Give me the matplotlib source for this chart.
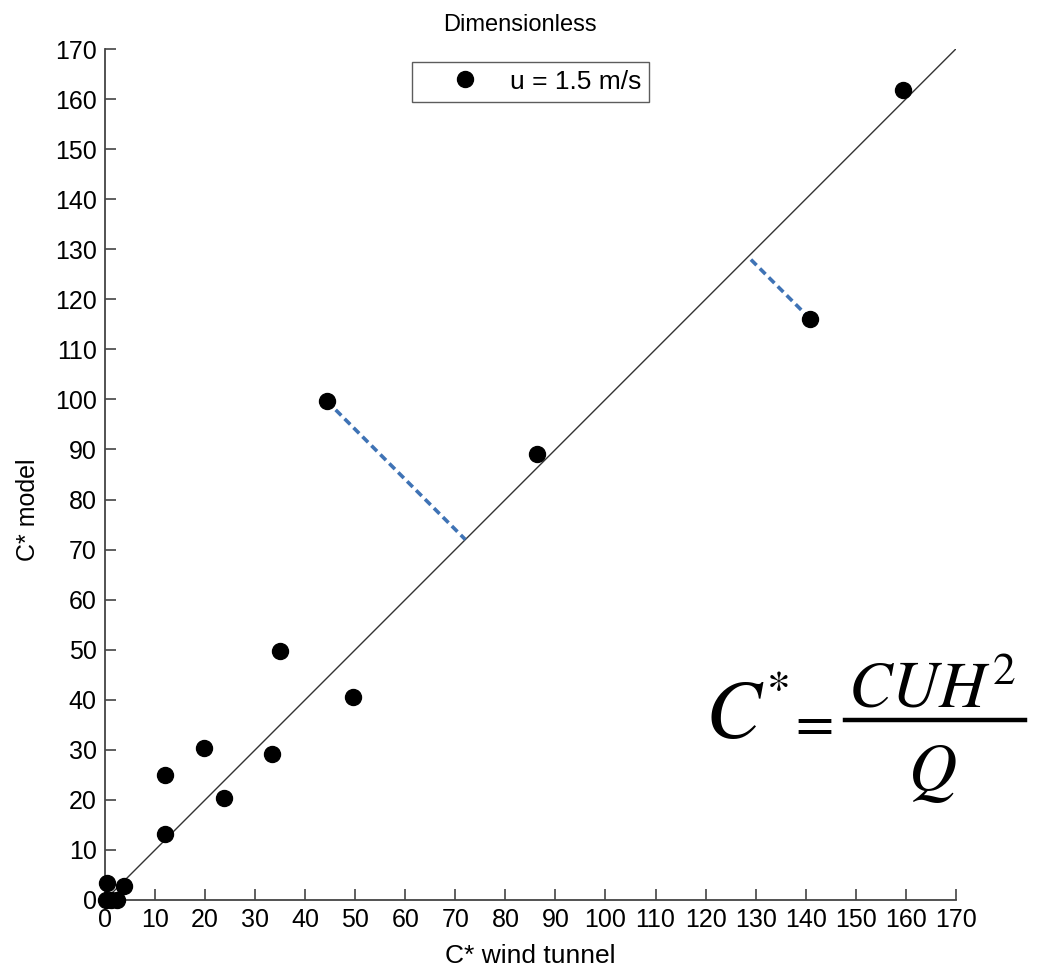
import matplotlib
matplotlib.use("Agg")
import matplotlib.pyplot as plt
from matplotlib.lines import Line2D
import numpy as np

plt.rcParams['font.family'] = ['Liberation Sans', 'DejaVu Sans']
plt.rcParams['mathtext.fontset'] = 'stix'

# Data
c_wind_tunnel = [159.5, 140.9, 44.3, 86.3, 35.0, 49.5, 33.3, 19.7, 11.9, 23.7, 12.0, 0.3, 3.7, 0.2, 1.1, 2.3]
c_model       = [161.9, 116.1, 99.7, 89.0, 49.7, 40.5, 29.1, 30.3, 24.9, 20.3, 13.2, 3.3, 2.7, 0.0, 0.0, 0.0]
outlier_idx = [2, 1]  # points with residual connectors
ticks = list(range(0, 171, 10))
legend_label = "u = 1.5 m/s"

fig = plt.figure(figsize=(10.38, 9.67), dpi=100)
ax = fig.add_axes([0.1012, 0.0693, 0.8196, 0.8800])

ax.plot([0, 170], [0, 170], color='#333333', lw=1.0, zorder=2)

for i in outlier_idx:
    x, y = c_wind_tunnel[i], c_model[i]
    m = (x + y) / 2.0
    ax.plot([x, m], [y, m], color='#3f73b5', lw=2.6, ls=(0, (2.2, 1.3)), zorder=3)

ax.plot(c_wind_tunnel, c_model, 'o', color='black', ms=11.5, ls='none',
        label=legend_label, zorder=4, clip_on=False)

ax.set_xlim(0, 170)
ax.set_ylim(0, 170)
ax.set_xticks(ticks)
ax.set_yticks(ticks)
ax.tick_params(direction='in', length=8, width=1.2, color='#444444',
               labelsize=18, pad=6)
for s in ['top', 'right']:
    ax.spines[s].set_visible(False)
for s in ['left', 'bottom']:
    ax.spines[s].set_color('#444444')
    ax.spines[s].set_linewidth(1.3)

ax.set_xlabel("C* wind tunnel", fontsize=19)
ax.xaxis.set_label_coords(0.5, -0.052)
ax.set_ylabel("C* model", fontsize=18)
ax.yaxis.set_label_coords(-0.076, 0.459)
ax.set_title("Dimensionless", fontsize=17, x=0.488, y=1.0, pad=13)

leg = ax.legend(loc='upper center', bbox_to_anchor=(0.5, 0.985), fontsize=19,
                frameon=True, fancybox=False, edgecolor='#333333',
                handletextpad=0.0, borderpad=0.3, handlelength=3.4,
                borderaxespad=0)
leg.get_frame().set_linewidth(1.0)

# Formula annotation
W, H = 1038.0, 967.0
fig.text(705 / W, 1 - 738 / H, r"$C$", fontsize=60, ha='left', va='baseline')
fig.text(766 / W, 1 - 668 / H, r"$*$", fontsize=34, ha='left', va='top')
fig.text(810 / W, 1 - 725 / H, r"$=$", fontsize=40, ha='center', va='center')
fig.text(932 / W, 1 - 707 / H, r"$CUH^{2}$", fontsize=47, ha='center', va='baseline')
fig.text(932 / W, 1 - 790 / H, r"$Q$", fontsize=48, ha='center', va='baseline')
fig.add_artist(Line2D([845 / W, 1025 / W], [1 - 720 / H, 1 - 720 / H],
                      color='black', lw=3.2, transform=fig.transFigure))

fig.savefig("out.png", dpi=100)
